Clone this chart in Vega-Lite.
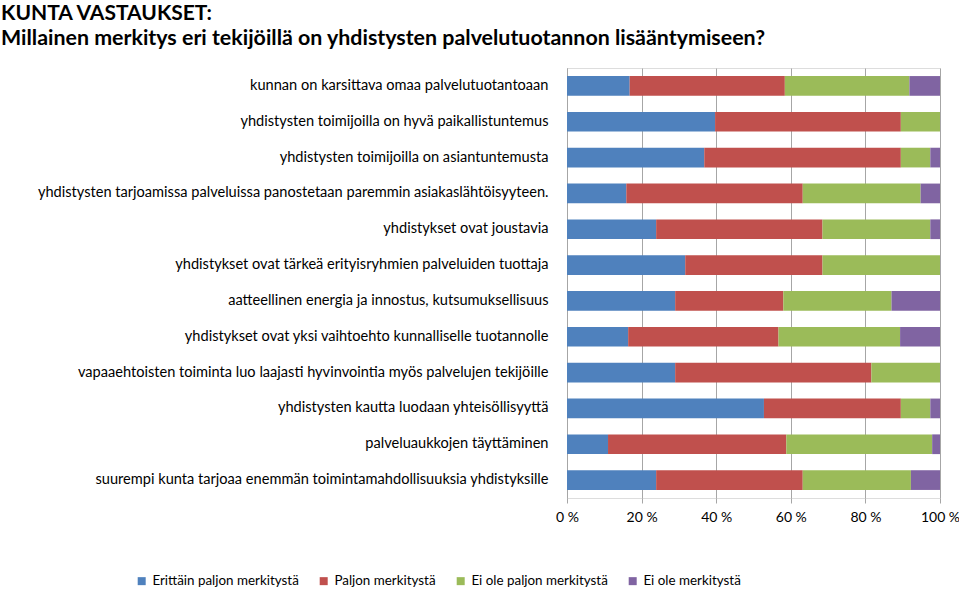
{
  "$schema": "https://vega.github.io/schema/vega-lite/v6.json",
  "width": 373,
  "height": 430,
  "autosize": {"type": "none"},
  "padding": {"left": 567, "top": 68, "right": 19, "bottom": 91},
  "background": "white",
  "title": {
    "text": "KUNTA VASTAUKSET:",
    "subtitle": "Millainen merkitys eri tekijöillä on yhdistysten palvelutuotannon lisääntymiseen?",
    "anchor": "start",
    "frame": "group",
    "dx": -566,
    "offset": 19,
    "baseline": "top",
    "font": "Lato",
    "fontSize": 21,
    "fontWeight": "bold",
    "color": "#000000",
    "subtitleFont": "Lato",
    "subtitleFontSize": 21.4,
    "subtitleFontWeight": "bold",
    "subtitleColor": "#000000",
    "subtitlePadding": 4
  },
  "data": {
    "values": [
      {"item": "kunnan on karsittava omaa palvelutuotantoaan", "cat": "Erittäin paljon merkitystä", "o": 1, "v": 16.8},
      {"item": "kunnan on karsittava omaa palvelutuotantoaan", "cat": "Paljon merkitystä", "o": 2, "v": 41.6},
      {"item": "kunnan on karsittava omaa palvelutuotantoaan", "cat": "Ei ole paljon merkitystä", "o": 3, "v": 33.4},
      {"item": "kunnan on karsittava omaa palvelutuotantoaan", "cat": "Ei ole merkitystä", "o": 4, "v": 8.2},
      {"item": "yhdistysten toimijoilla on hyvä paikallistuntemus", "cat": "Erittäin paljon merkitystä", "o": 1, "v": 39.7},
      {"item": "yhdistysten toimijoilla on hyvä paikallistuntemus", "cat": "Paljon merkitystä", "o": 2, "v": 49.8},
      {"item": "yhdistysten toimijoilla on hyvä paikallistuntemus", "cat": "Ei ole paljon merkitystä", "o": 3, "v": 10.5},
      {"item": "yhdistysten toimijoilla on hyvä paikallistuntemus", "cat": "Ei ole merkitystä", "o": 4, "v": 0},
      {"item": "yhdistysten toimijoilla on asiantuntemusta", "cat": "Erittäin paljon merkitystä", "o": 1, "v": 36.8},
      {"item": "yhdistysten toimijoilla on asiantuntemusta", "cat": "Paljon merkitystä", "o": 2, "v": 52.7},
      {"item": "yhdistysten toimijoilla on asiantuntemusta", "cat": "Ei ole paljon merkitystä", "o": 3, "v": 7.9},
      {"item": "yhdistysten toimijoilla on asiantuntemusta", "cat": "Ei ole merkitystä", "o": 4, "v": 2.6},
      {"item": "yhdistysten tarjoamissa palveluissa panostetaan paremmin asiakaslähtöisyyteen.", "cat": "Erittäin paljon merkitystä", "o": 1, "v": 15.9},
      {"item": "yhdistysten tarjoamissa palveluissa panostetaan paremmin asiakaslähtöisyyteen.", "cat": "Paljon merkitystä", "o": 2, "v": 47.3},
      {"item": "yhdistysten tarjoamissa palveluissa panostetaan paremmin asiakaslähtöisyyteen.", "cat": "Ei ole paljon merkitystä", "o": 3, "v": 31.6},
      {"item": "yhdistysten tarjoamissa palveluissa panostetaan paremmin asiakaslähtöisyyteen.", "cat": "Ei ole merkitystä", "o": 4, "v": 5.2},
      {"item": "yhdistykset ovat joustavia", "cat": "Erittäin paljon merkitystä", "o": 1, "v": 23.9},
      {"item": "yhdistykset ovat joustavia", "cat": "Paljon merkitystä", "o": 2, "v": 44.6},
      {"item": "yhdistykset ovat joustavia", "cat": "Ei ole paljon merkitystä", "o": 3, "v": 28.9},
      {"item": "yhdistykset ovat joustavia", "cat": "Ei ole merkitystä", "o": 4, "v": 2.6},
      {"item": "yhdistykset ovat tärkeä erityisryhmien palveluiden tuottaja", "cat": "Erittäin paljon merkitystä", "o": 1, "v": 31.7},
      {"item": "yhdistykset ovat tärkeä erityisryhmien palveluiden tuottaja", "cat": "Paljon merkitystä", "o": 2, "v": 36.8},
      {"item": "yhdistykset ovat tärkeä erityisryhmien palveluiden tuottaja", "cat": "Ei ole paljon merkitystä", "o": 3, "v": 31.5},
      {"item": "yhdistykset ovat tärkeä erityisryhmien palveluiden tuottaja", "cat": "Ei ole merkitystä", "o": 4, "v": 0},
      {"item": "aatteellinen energia ja innostus, kutsumuksellisuus", "cat": "Erittäin paljon merkitystä", "o": 1, "v": 29.0},
      {"item": "aatteellinen energia ja innostus, kutsumuksellisuus", "cat": "Paljon merkitystä", "o": 2, "v": 29.0},
      {"item": "aatteellinen energia ja innostus, kutsumuksellisuus", "cat": "Ei ole paljon merkitystä", "o": 3, "v": 29.0},
      {"item": "aatteellinen energia ja innostus, kutsumuksellisuus", "cat": "Ei ole merkitystä", "o": 4, "v": 13.0},
      {"item": "yhdistykset ovat yksi vaihtoehto kunnalliselle tuotannolle", "cat": "Erittäin paljon merkitystä", "o": 1, "v": 16.4},
      {"item": "yhdistykset ovat yksi vaihtoehto kunnalliselle tuotannolle", "cat": "Paljon merkitystä", "o": 2, "v": 40.3},
      {"item": "yhdistykset ovat yksi vaihtoehto kunnalliselle tuotannolle", "cat": "Ei ole paljon merkitystä", "o": 3, "v": 32.6},
      {"item": "yhdistykset ovat yksi vaihtoehto kunnalliselle tuotannolle", "cat": "Ei ole merkitystä", "o": 4, "v": 10.7},
      {"item": "vapaaehtoisten toiminta luo laajasti hyvinvointia myös palvelujen tekijöille", "cat": "Erittäin paljon merkitystä", "o": 1, "v": 29.0},
      {"item": "vapaaehtoisten toiminta luo laajasti hyvinvointia myös palvelujen tekijöille", "cat": "Paljon merkitystä", "o": 2, "v": 52.6},
      {"item": "vapaaehtoisten toiminta luo laajasti hyvinvointia myös palvelujen tekijöille", "cat": "Ei ole paljon merkitystä", "o": 3, "v": 18.4},
      {"item": "vapaaehtoisten toiminta luo laajasti hyvinvointia myös palvelujen tekijöille", "cat": "Ei ole merkitystä", "o": 4, "v": 0},
      {"item": "yhdistysten kautta luodaan yhteisöllisyyttä", "cat": "Erittäin paljon merkitystä", "o": 1, "v": 52.8},
      {"item": "yhdistysten kautta luodaan yhteisöllisyyttä", "cat": "Paljon merkitystä", "o": 2, "v": 36.7},
      {"item": "yhdistysten kautta luodaan yhteisöllisyyttä", "cat": "Ei ole paljon merkitystä", "o": 3, "v": 7.9},
      {"item": "yhdistysten kautta luodaan yhteisöllisyyttä", "cat": "Ei ole merkitystä", "o": 4, "v": 2.6},
      {"item": "palveluaukkojen täyttäminen", "cat": "Erittäin paljon merkitystä", "o": 1, "v": 11.0},
      {"item": "palveluaukkojen täyttäminen", "cat": "Paljon merkitystä", "o": 2, "v": 47.8},
      {"item": "palveluaukkojen täyttäminen", "cat": "Ei ole paljon merkitystä", "o": 3, "v": 39.1},
      {"item": "palveluaukkojen täyttäminen", "cat": "Ei ole merkitystä", "o": 4, "v": 2.1},
      {"item": "suurempi kunta tarjoaa enemmän toimintamahdollisuuksia yhdistyksille", "cat": "Erittäin paljon merkitystä", "o": 1, "v": 23.9},
      {"item": "suurempi kunta tarjoaa enemmän toimintamahdollisuuksia yhdistyksille", "cat": "Paljon merkitystä", "o": 2, "v": 39.3},
      {"item": "suurempi kunta tarjoaa enemmän toimintamahdollisuuksia yhdistyksille", "cat": "Ei ole paljon merkitystä", "o": 3, "v": 29.0},
      {"item": "suurempi kunta tarjoaa enemmän toimintamahdollisuuksia yhdistyksille", "cat": "Ei ole merkitystä", "o": 4, "v": 7.8}
    ]
  },
  "mark": {"type": "bar"},
  "encoding": {
    "y": {
      "field": "item",
      "type": "nominal",
      "sort": null,
      "scale": {"paddingInner": 0.45, "paddingOuter": 0.225},
      "axis": {
        "title": null,
        "ticks": false,
        "domain": true,
        "domainColor": "#A6A6A6",
        "labelFont": "Lato",
        "labelFontSize": 14.6,
        "labelColor": "#000000",
        "labelPadding": 19,
        "labelLimit": 700
      }
    },
    "x": {
      "field": "v",
      "type": "quantitative",
      "stack": "normalize",
      "scale": {"domain": [0, 1], "nice": false},
      "axis": {
        "title": null,
        "values": [0, 0.2, 0.4, 0.6, 0.8, 1],
        "labelExpr": "format(datum.value * 100, 'd') + ' %'",
        "grid": true,
        "gridColor": "#A6A6A6",
        "domain": false,
        "ticks": true,
        "tickColor": "#A6A6A6",
        "tickSize": 5,
        "labelFont": "Lato",
        "labelFontSize": 14,
        "labelColor": "#000000",
        "labelPadding": 7,
        "labelFlush": false
      }
    },
    "color": {
      "field": "cat",
      "type": "nominal",
      "scale": {
        "domain": ["Erittäin paljon merkitystä", "Paljon merkitystä", "Ei ole paljon merkitystä", "Ei ole merkitystä"],
        "range": ["#4F81BD", "#C0504D", "#9BBB59", "#8064A2"]
      },
      "legend": {
        "title": null,
        "orient": "none",
        "direction": "horizontal",
        "legendX": -432,
        "legendY": 506,
        "symbolType": "square",
        "symbolSize": 64,
        "symbolStrokeWidth": 0,
        "symbolOpacity": 1,
        "labelFont": "Lato",
        "labelFontSize": 13.4,
        "labelColor": "#000000",
        "labelOffset": 4,
        "columnPadding": 18
      }
    },
    "order": {"field": "o", "type": "quantitative"}
  }
}
